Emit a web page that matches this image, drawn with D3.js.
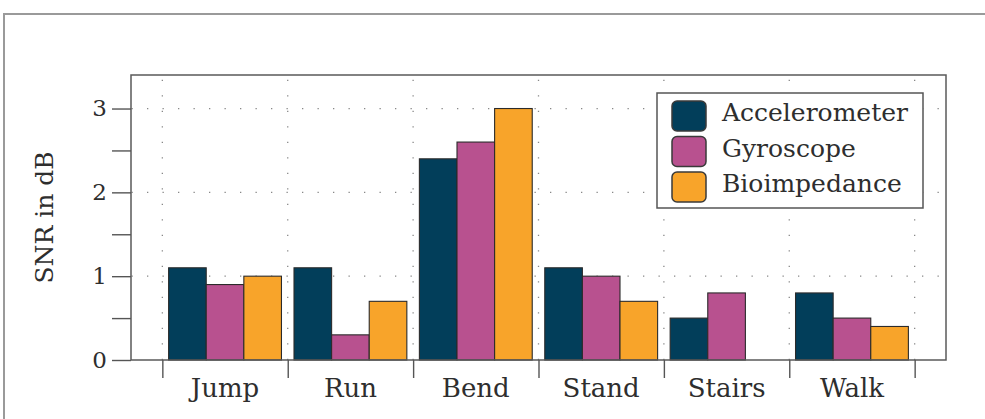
<!DOCTYPE html>
<html>
<head>
<meta charset="utf-8">
<script src="https://cdn.jsdelivr.net/npm/d3@7"></script>
<style>
  html, body { margin: 0; padding: 0; background: #fff; }
  svg { display: block; }
  svg text { font-family: "DejaVu Serif", "Liberation Serif", serif; fill: #2e2e2e; }
</style>
</head>
<body>
<svg id="chart" width="985" height="419"></svg>
<script>
// Activities on the x axis
const categories = ["Jump", "Run", "Bend", "Stand", "Stairs", "Walk"];
// Sensor series
const seriesNames = ["Accelerometer", "Gyroscope", "Bioimpedance"];
const seriesColors = ["#023e5a", "#b8518f", "#f8a42a"];
// SNR in dB per activity (null = no bar)
const accelerometer = [1.1, 1.1, 2.4, 1.1, 0.5, 0.8];
const gyroscope     = [0.9, 0.3, 2.6, 1.0, 0.8, 0.5];
const bioimpedance  = [1.0, 0.7, 3.0, 0.7, null, 0.4];
const yTicks = [0, 0.5, 1, 1.5, 2, 2.5, 3];
const yLabelTicks = [0, 1, 2, 3];
const yLabel = "SNR in dB";

const series = [accelerometer, gyroscope, bioimpedance];
const FONT = "'DejaVu Serif', 'Liberation Serif', serif";

const svg = d3.select("#chart");

// outer frame
svg.append("path")
  .attr("d", "M4,425 L4,14 L990,14")
  .attr("fill", "none")
  .attr("stroke", "#9a9a9a")
  .attr("stroke-width", 2);

const plot = { left: 131, right: 946, top: 75, bottom: 360 };

const x = d3.scaleLinear().domain([-0.75, categories.length - 0.25]).range([plot.left, plot.right]);
const y = d3.scaleLinear().domain([0, 3.4]).range([plot.bottom, plot.top]);

const barW = 0.3;
const boundaries = d3.range(categories.length + 1).map(i => i - 0.5);

// dotted grid
const grid = svg.append("g").attr("stroke", "#888").attr("stroke-width", 1.3)
  .attr("stroke-dasharray", "1.3,14.2").attr("fill", "none");
grid.selectAll("line.v").data(boundaries).join("line")
  .attr("x1", d => x(d)).attr("x2", d => x(d))
  .attr("y1", plot.bottom).attr("y2", plot.top);
grid.selectAll("line.h").data(yLabelTicks.filter(d => d > 0)).join("line")
  .attr("class", "h")
  .attr("x1", plot.left).attr("x2", plot.right)
  .attr("y1", d => y(d)).attr("y2", d => y(d))
  .attr("stroke-dashoffset", -0.5);

// bars
series.forEach((vals, si) => {
  svg.append("g").selectAll("rect").data(categories.map((c, i) => ({ i, v: vals[i] })).filter(d => d.v != null))
    .join("rect")
    .attr("x", d => x(d.i + (si - 1.5) * barW))
    .attr("width", x(barW) - x(0))
    .attr("y", d => y(d.v))
    .attr("height", d => y(0) - y(d.v))
    .attr("fill", seriesColors[si])
    .attr("stroke", "#2b2b2b")
    .attr("stroke-width", 1.1);
});

// plot frame
svg.append("rect")
  .attr("x", plot.left).attr("y", plot.top)
  .attr("width", plot.right - plot.left).attr("height", plot.bottom - plot.top)
  .attr("fill", "none").attr("stroke", "#5a5a5a").attr("stroke-width", 1.5);

// y axis
const yAxis = d3.axisLeft(y).tickValues(yTicks).tickSize(19).tickPadding(5)
  .tickFormat(d => yLabelTicks.includes(d) ? d3.format("d")(d) : "");
const gy = svg.append("g").attr("transform", `translate(${plot.left},0)`).call(yAxis)
  .attr("font-family", FONT);
gy.select(".domain").remove();
gy.selectAll(".tick line").attr("stroke", "#555").attr("stroke-width", 1.4);
gy.selectAll(".tick text").attr("font-size", 23);

// x axis: ticks at group boundaries, labels at group centers
const xAxis = d3.axisBottom(x).tickValues(boundaries).tickSize(18).tickFormat("");
const gx = svg.append("g").attr("transform", `translate(0,${plot.bottom})`).call(xAxis);
gx.select(".domain").remove();
gx.selectAll(".tick line").attr("stroke", "#555").attr("stroke-width", 1.4);

svg.append("g").selectAll("text").data(categories).join("text")
  .attr("x", (d, i) => x(i)).attr("y", 397)
  .attr("text-anchor", "middle")
  .attr("font-size", 26)
  .text(d => d);

// y label
svg.append("text")
  .attr("transform", `translate(53,${(plot.top + plot.bottom) / 2}) rotate(-90)`)
  .attr("text-anchor", "middle")
  .attr("font-size", 25)
  .text(yLabel);

// legend
const lg = svg.append("g");
lg.append("rect").attr("x", 657).attr("y", 93).attr("width", 266).attr("height", 115)
  .attr("fill", "#fff").attr("stroke", "#555").attr("stroke-width", 1.5);
seriesNames.forEach((name, i) => {
  const yy = 101 + i * 35.5;
  lg.append("rect").attr("x", 672).attr("y", yy).attr("width", 34).attr("height", 30)
    .attr("rx", 5).attr("ry", 5)
    .attr("fill", seriesColors[i]).attr("stroke", "#3a3a3a").attr("stroke-width", 1.5);
  lg.append("text").attr("x", 722).attr("y", yy + 20)
    .attr("font-size", 25).text(name);
});
</script>
</body>
</html>
